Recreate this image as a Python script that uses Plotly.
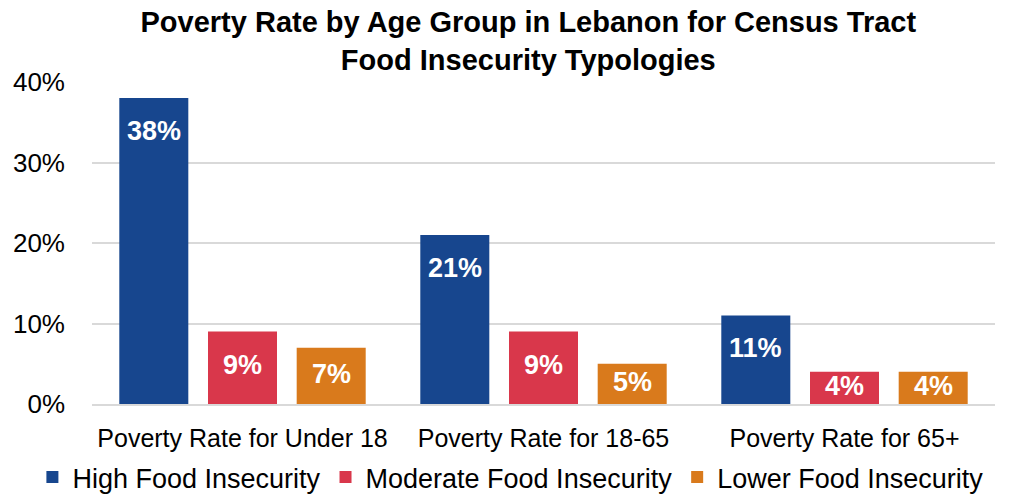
import plotly.graph_objects as go

categories = ["Poverty Rate for Under 18", "Poverty Rate for 18-65", "Poverty Rate for 65+"]
high = [0.38, 0.21, 0.11]
moderate = [0.09, 0.09, 0.04]
lower = [0.07, 0.05, 0.04]
series_names = ["High Food Insecurity", "Moderate Food Insecurity", "Lower Food Insecurity"]
colors = ["#17468e", "#d9374b", "#d97a1c"]

FONT = "Liberation Sans, Arial, sans-serif"
Y_MAX = 0.40
PLOT_H = 322
BARGAP = 0.116
BARGROUPGAP = 0.222

fig = go.Figure()
all_vals = [high, moderate, lower]
for name, vals, col in zip(series_names, all_vals, colors):
    fig.add_trace(go.Bar(
        x=categories, y=vals, name=name, marker_color=col,
        marker_line_width=0, textposition="none",
    ))

# value labels placed inside the bars near their tops
slot = (1 - BARGAP) / len(all_vals)
annotations = []
for si, vals in enumerate(all_vals):
    off = (si - (len(all_vals) - 1) / 2) * slot
    for ci, v in enumerate(vals):
        h_px = v / Y_MAX * PLOT_H
        shift = min(33, h_px / 2 - 2)
        annotations.append(dict(
            x=ci + off, y=v, xref="x", yref="y", text=f"<b>{round(v*100)}%</b>",
            showarrow=False, yshift=-shift, yanchor="middle",
            font=dict(family=FONT, size=27, color="white"),
        ))

fig.update_layout(
    width=1016, height=499,
    margin=dict(l=92, r=21, t=82, b=95, autoexpand=False),
    paper_bgcolor="white", plot_bgcolor="white",
    barmode="group", bargap=BARGAP, bargroupgap=BARGROUPGAP,
    title=dict(text="<b>Poverty Rate by Age Group in Lebanon for Census Tract<br>Food Insecurity Typologies</b>",
               x=0.52, xanchor="center", y=0.936, yanchor="top",
               font=dict(family=FONT, size=29, color="black")),
    font=dict(family=FONT, color="black"),
    legend=dict(orientation="h", x=-0.066, xref="paper", xanchor="left",
                y=-0.152, yanchor="top",
                font=dict(size=27), itemwidth=30, traceorder="normal"),
    annotations=annotations,
)
fig.update_yaxes(range=[0, Y_MAX], tickvals=[0, 0.1, 0.2, 0.3, 0.4], tickformat=".0%",
                 showgrid=True, gridcolor="#d9d9d9", gridwidth=2, zeroline=False,
                 showline=False, ticks="", tickfont=dict(size=26), ticklabelstandoff=26,
                 automargin=False)
fig.update_xaxes(showline=True, linecolor="#d9d9d9", linewidth=2, ticks="",
                 tickfont=dict(size=25), ticklabelstandoff=11, automargin=False)

fig.write_html("out.html", config={"displayModeBar": False},
               post_script="document.body.style.margin='0px';")
